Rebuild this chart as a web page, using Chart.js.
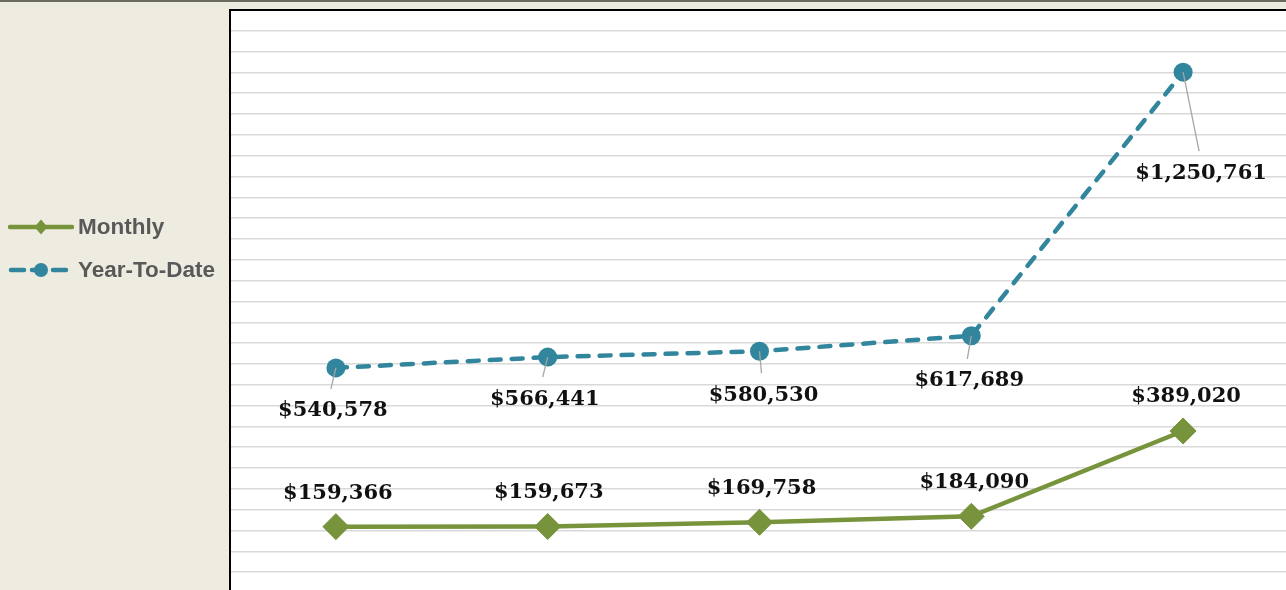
<!DOCTYPE html>
<html>
<head>
<meta charset="utf-8">
<script src="https://cdn.jsdelivr.net/npm/chart.js@4/dist/chart.umd.min.js"></script>
<style>
  html, body { margin: 0; padding: 0; }
  body {
    width: 1286px; height: 590px; overflow: hidden;
    background: #EEECE1; position: relative;
  }
  #topRule { position: absolute; left: 0; top: 0; width: 1286px; height: 2px; background: #6b6b62; z-index: 3; }
  #chartWrap { position: absolute; left: 0; top: 0; width: 1300px; height: 600px; }
  #legend { position: absolute; left: 0; top: 0; z-index: 2; }
  .legend-item {
    position: absolute; left: 8px; height: 30px; display: flex; align-items: center;
    font-family: "Liberation Sans", Arial, sans-serif; font-weight: bold; font-size: 22.5px;
    color: #595959; white-space: nowrap;
  }
  .legend-item svg { margin-right: 4px; }
</style>
</head>
<body>
<div id="topRule"></div>
<div id="chartWrap"><canvas id="trendChart" width="1300" height="600"></canvas></div>
<div id="legend"></div>

<script>
// Chart data
const periods = ['Jan', 'Feb', 'Mar', 'Apr', 'May'];
const monthlyValues = [159366, 159673, 169758, 184090, 389020];
const ytdValues = [540578, 566441, 580530, 617689, 1250761];
const seriesNames = ['Monthly', 'Year-To-Date'];

const yMin = 0;
const yMax = 1400000;
const yStep = 50000;

const colors = {
  monthly: '#77933C',
  ytd: '#31859C',
  grid: '#D9D9D9',
  label: '#111111',
  leader: '#A6A6A6'
};

// label offsets from each point (px), ytd labels sit below with a leader line
const monthlyLabelOffsets = [[2, -33], [1, -34], [2, -34], [3, -34], [3, -34]];
const ytdLabelOffsets = [[-3, 43], [-3, 42], [4, 44], [-2, 45], [18, 101]];

function money(v) {
  return '$' + v.toLocaleString('en-US');
}

// white plot area + black frame on left/top
const plotFrame = {
  id: 'plotFrame',
  beforeDraw(chart) {
    const { ctx, chartArea: a } = chart;
    ctx.save();
    ctx.fillStyle = '#FFFFFF';
    ctx.fillRect(a.left, a.top, a.right - a.left, a.bottom - a.top);
    ctx.restore();
  },
  beforeDatasetsDraw(chart) {
    const { ctx, chartArea: a } = chart;
    ctx.save();
    ctx.strokeStyle = '#000000';
    ctx.lineWidth = 2;
    ctx.beginPath();
    ctx.moveTo(a.left, a.bottom + 10);
    ctx.lineTo(a.left, a.top);
    ctx.lineTo(a.right + 10, a.top);
    ctx.stroke();
    ctx.restore();
  }
};

// value labels (no datalabels plugin available offline)
const valueLabels = {
  id: 'valueLabels',
  afterDatasetsDraw(chart) {
    const ctx = chart.ctx;
    ctx.save();
    ctx.font = 'bold 21px "DejaVu Serif", serif';
    ctx.textAlign = 'center';
    ctx.textBaseline = 'middle';
    chart.data.datasets.forEach((ds, di) => {
      const meta = chart.getDatasetMeta(di);
      const offsets = di === 0 ? monthlyLabelOffsets : ytdLabelOffsets;
      meta.data.forEach((pt, i) => {
        const lx = pt.x + offsets[i][0];
        const ly = pt.y + offsets[i][1];
        if (di === 1) {
          ctx.strokeStyle = colors.leader;
          ctx.lineWidth = 1.3;
          ctx.beginPath();
          ctx.moveTo(pt.x, pt.y);
          ctx.lineTo(lx - 2, ly - 22);
          ctx.stroke();
        }
        ctx.fillStyle = colors.label;
        ctx.fillText(money(ds.data[i]), lx, ly);
      });
    });
    ctx.restore();
  }
};

const ctx = document.getElementById('trendChart').getContext('2d');
const trendChart = new Chart(ctx, {
  type: 'line',
  data: {
    labels: periods,
    datasets: [
      {
        label: seriesNames[0],
        data: monthlyValues,
        borderColor: colors.monthly,
        backgroundColor: colors.monthly,
        borderWidth: 4.5,
        pointStyle: 'rectRot',
        pointRadius: 13,
        pointBorderWidth: 1,
        pointBorderColor: colors.monthly,
        pointBackgroundColor: colors.monthly,
        tension: 0,
        fill: false
      },
      {
        label: seriesNames[1],
        data: ytdValues,
        borderColor: colors.ytd,
        backgroundColor: colors.ytd,
        borderWidth: 4.5,
        borderDash: [11, 11],
        borderCapStyle: 'round',
        pointStyle: 'circle',
        pointRadius: 9.5,
        pointBorderWidth: 0,
        pointBackgroundColor: colors.ytd,
        tension: 0,
        fill: false
      }
    ]
  },
  options: {
    responsive: false,
    animation: false,
    devicePixelRatio: 1,
    layout: { autoPadding: false, padding: { left: 230, top: 10, right: 11, bottom: 7 } },
    plugins: {
      legend: { display: false },
      tooltip: { enabled: false }
    },
    scales: {
      x: {
        type: 'category',
        offset: true,
        grid: { display: false, drawTicks: false },
        border: { display: false },
        ticks: { display: false }
      },
      y: {
        min: yMin,
        max: yMax,
        grid: { color: colors.grid, lineWidth: 1.6, drawTicks: false },
        border: { display: false },
        ticks: { display: false, stepSize: yStep }
      }
    }
  },
  plugins: [plotFrame, valueLabels]
});

// HTML legend built from the datasets
function legendIcon(ds, idx) {
  const c = ds.borderColor;
  if (idx === 0) {
    return `<svg width="66" height="20"><line x1="2" y1="10" x2="64" y2="10" stroke="${c}" stroke-width="4.5" stroke-linecap="round"/>` +
      `<polygon points="33,2.5 39.5,10 33,17.5 26.5,10" fill="${c}"/></svg>`;
  }
  return `<svg width="66" height="20"><line x1="3" y1="10" x2="16" y2="10" stroke="${c}" stroke-width="4.5" stroke-linecap="round"/>` +
    `<line x1="24" y1="10" x2="27" y2="10" stroke="${c}" stroke-width="4.5" stroke-linecap="round"/>` +
    `<circle cx="33" cy="10" r="7" fill="${c}"/>` +
    `<line x1="45" y1="10" x2="58" y2="10" stroke="${c}" stroke-width="4.5" stroke-linecap="round"/></svg>`;
}

const legendEl = document.getElementById('legend');
const legendTops = [212, 255];
trendChart.data.datasets.forEach((ds, i) => {
  const item = document.createElement('div');
  item.className = 'legend-item';
  item.style.top = legendTops[i] + 'px';
  item.innerHTML = legendIcon(ds, i) + '<span>' + ds.label + '</span>';
  legendEl.appendChild(item);
});
</script>
</body>
</html>
